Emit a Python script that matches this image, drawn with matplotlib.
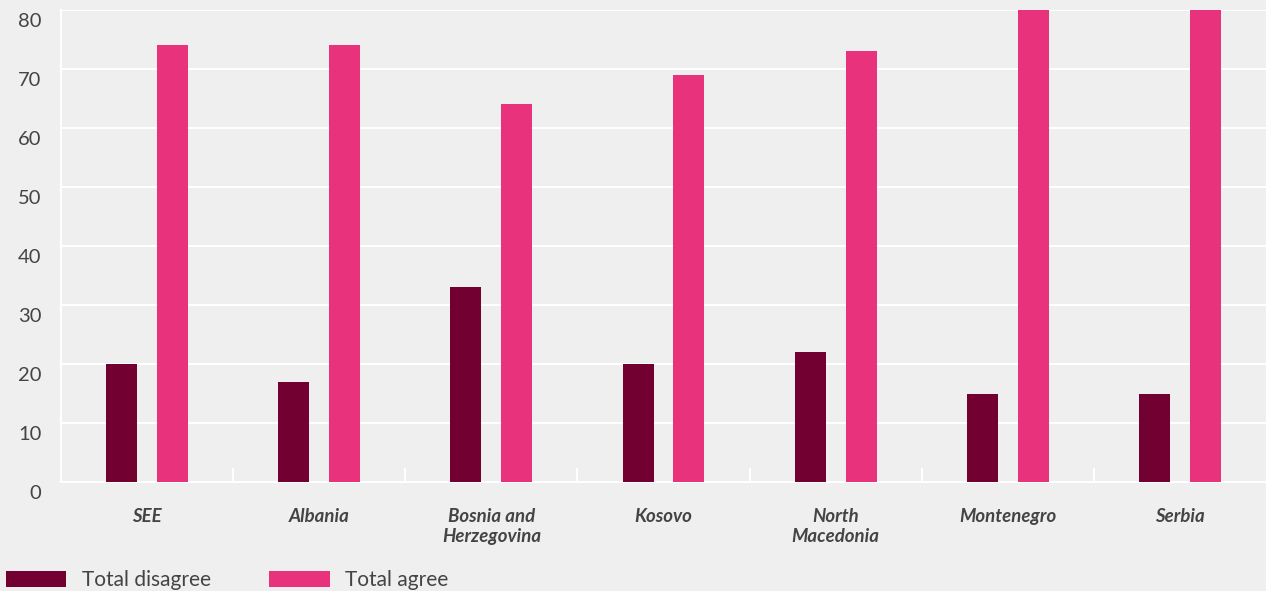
import matplotlib
matplotlib.use("Agg")
import matplotlib.pyplot as plt
import matplotlib.transforms as mtransforms
import numpy as np

plt.rcParams['font.family'] = ['Lato', 'DejaVu Sans']

categories = ["SEE", "Albania", "Bosnia and\nHerzegovina", "Kosovo", "North\nMacedonia", "Montenegro", "Serbia"]
total_disagree = [20, 17, 33, 20, 22, 15, 15]
total_agree = [74, 74, 64, 69, 73, 81, 81]
yticks = [0, 10, 20, 30, 40, 50, 60, 70, 80]

BG = "#efefef"
C_DIS = "#720030"
C_AGR = "#e8327c"
TXT = "#444444"

fig = plt.figure(figsize=(12.66, 5.91), dpi=100, facecolor=BG)
ax = fig.add_axes([61/1266, (591-482)/591, 1205/1266, 472/591])
ax.set_facecolor(BG)

x = np.arange(len(categories))
w = 0.18
off = 0.148
ax.bar(x - off, total_disagree, width=w, color=C_DIS, label="Total disagree", zorder=3)
ax.bar(x + off, total_agree, width=w, color=C_AGR, label="Total agree", zorder=3)

ax.set_xlim(-0.5, len(categories) - 0.5)
ax.set_ylim(0, 80)
ax.set_yticks(yticks)
ax.yaxis.grid(True, color="white", linewidth=1.5, zorder=0)
ax.set_axisbelow(True)

for s in ["top", "right"]:
    ax.spines[s].set_visible(False)
for s in ["left", "bottom"]:
    ax.spines[s].set_color("white")
    ax.spines[s].set_linewidth(1.5)

ax.tick_params(axis="y", length=0, pad=14, labelsize=14.5, labelcolor=TXT)
for lab in ax.get_yticklabels():
    lab.set_transform(lab.get_transform() + mtransforms.ScaledTranslation(0, -7/72, fig.dpi_scale_trans))

ax.set_xticks(x)
ax.set_xticklabels(categories, fontsize=13.4, fontweight="bold", fontstyle="italic", color=TXT, linespacing=1.2)
ax.tick_params(axis="x", length=0, pad=19)
ax.set_xticks(np.arange(len(categories) - 1) + 0.5, minor=True)
ax.tick_params(axis="x", which="minor", direction="in", length=10, width=1.5, color="white")

fig.legend(loc="center left", bbox_to_anchor=(6/1266, (591-580)/591), ncol=2, frameon=False,
           fontsize=15, handlelength=2.9, handleheight=0.8, handletextpad=0.75,
           columnspacing=2.8, borderpad=0, borderaxespad=0, labelcolor=TXT)

fig.savefig("out.png", dpi=100, facecolor=BG)
